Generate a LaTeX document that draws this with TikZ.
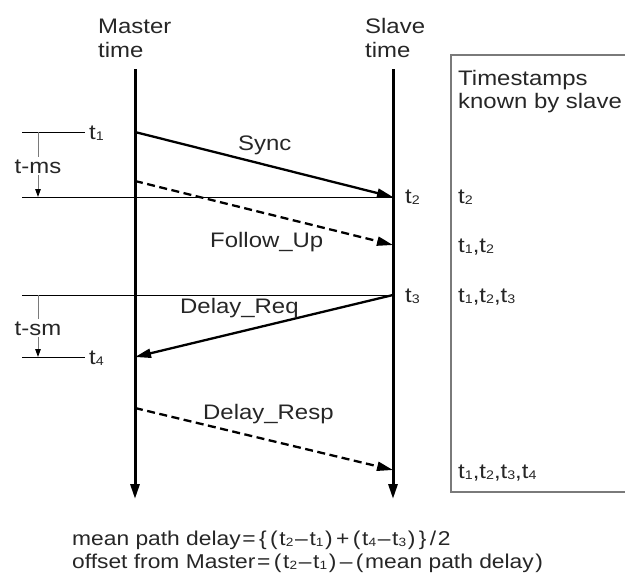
\documentclass[tikz,border=0pt]{standalone}
\usepackage{fontspec}
\setmainfont[FakeStretch=1.14]{Liberation Sans}
\usetikzlibrary{arrows.meta}

% t with a small index digit, for labels and for the formula
\newcommand\ts[1]{t\raisebox{-1pt}{\fontsize{12.5}{12.5}\selectfont #1}}
\newcommand\tf[1]{t\raisebox{-1pt}{\fontsize{12}{12}\selectfont #1}}
% operator with a little air on both sides, used in the formula
\newcommand\op[1]{\kern1.7pt#1\kern1.7pt}

\definecolor{ink}{HTML}{262626}
\definecolor{rulegray}{HTML}{7A7A7A}

\begin{document}
\begin{tikzpicture}[x=1pt,y=-1pt,
  lbl/.style={font=\fontsize{21}{24}\selectfont, text=ink, inner sep=0pt, anchor=base west},
  formula/.style={font=\fontsize{20}{23}\selectfont, text=ink, inner sep=0pt, anchor=base west},
  timeline/.style={line width=3pt, -{Triangle[length=15pt,width=9pt]}},
  msg/.style={line width=2.3pt, -{Triangle[length=16pt,width=9pt]}},
  msgdash/.style={msg, dash pattern=on 8pt off 4.5pt},
  ruler/.style={line width=1pt, draw=black},
  gauge/.style={line width=1pt, draw=rulegray, -{Triangle[length=8pt,width=5.5pt,color=black]}},
  gaugelbl/.style={lbl, anchor=base, fill=white, inner sep=2pt},
  boxline/.style={line width=1.4pt, draw=rulegray}
]
\useasboundingbox (0,0) rectangle (625,574);

% time axes
\coordinate (mtop) at (135,69);
\coordinate (mbot) at (135,499);
\coordinate (stop) at (393,69);
\coordinate (sbot) at (393,499);
\draw[timeline] (mtop) -- (mbot);
\draw[timeline] (stop) -- (sbot);

\node[lbl] (mlab1) at (98,33) {Master};
\node[lbl] (mlab2) at (98,57) {time};
\node[lbl] (slab1) at (365,33) {Slave};
\node[lbl] (slab2) at (365,57) {time};

% event points on the axes
\coordinate (m1) at (135,132);
\coordinate (s2) at (393,197);
\coordinate (mf) at (135,181);
\coordinate (sf) at (393,245);
\coordinate (s3) at (393,295);
\coordinate (m4) at (135,357);
\coordinate (mr) at (135,408);
\coordinate (sr) at (393,470);

% messages
\draw[msg] (m1) -- (s2);
\draw[msgdash] (mf) -- (sf);
\draw[msg] (s3) -- (m4);
\draw[msgdash] (mr) -- (sr);

\node[lbl] (sync) at (238,150) {Sync};
\node[lbl] (fup) at (210,247) {Follow\_Up};
\node[lbl] (dreq) at (180,313) {Delay\_Req};
\node[lbl] (dresp) at (203,419) {Delay\_Resp};

% reference lines and delay gauges
\coordinate (r1a) at (22,132);
\coordinate (r1b) at (85,132);
\coordinate (r2a) at (22,197);
\coordinate (r3a) at (22,295);
\coordinate (r4a) at (22,357);
\coordinate (r4b) at (85,357);
\draw[ruler] (r1a) -- (r1b);
\draw[ruler] (r2a) -- (s2);
\draw[ruler] (r3a) -- (s3);
\draw[ruler] (r4a) -- (r4b);

\coordinate (g1a) at (38,132);
\coordinate (g1b) at (38,197);
\coordinate (g2a) at (38,295);
\coordinate (g2b) at (38,357);
\draw[gauge] (g1a) -- (g1b);
\draw[gauge] (g2a) -- (g2b);
\node[gaugelbl] (tms) at (38,173) {t-ms};
\node[gaugelbl] (tsm) at (38,335) {t-sm};

\node[lbl] (t1) at (89,139) {\ts1};
\node[lbl] (t4) at (89,364) {\ts4};
\node[lbl] (t2) at (405,203) {\ts2};
\node[lbl] (t3) at (405,302) {\ts3};

% timestamps known by the slave
\coordinate (bx1) at (625,55);
\coordinate (bx2) at (451,492);
\coordinate (bx3) at (625,492);
\draw[boxline] (bx1) -| (bx2) -- (bx3);
\node[lbl] (bh1) at (458,85) {Timestamps};
\node[lbl] (bh2) at (458,108) {known by slave};
\node[lbl] (k1) at (458,203) {\ts2};
\node[lbl] (k2) at (458,252) {\ts1,\ts2};
\node[lbl] (k3) at (458,302) {\ts1,\ts2,\ts3};
\node[lbl] (k4) at (458,478) {\ts1,\ts2,\ts3,\ts4};

% formulas
\node[formula] (f1) at (72,545) {mean path delay\op{=}\op{\{}\op{(}\tf2\op{–}\tf1\op{)}\op{+}\op{(}\tf4\op{–}\tf3\op{)}\op{\}}\op{/}2};
\node[formula] (f2) at (72,568) {offset from Master\op{=}\op{(}\tf2\op{–}\tf1\op{)}\op{–}\op{(}mean path delay\op{)}};
\end{tikzpicture}
\end{document}
